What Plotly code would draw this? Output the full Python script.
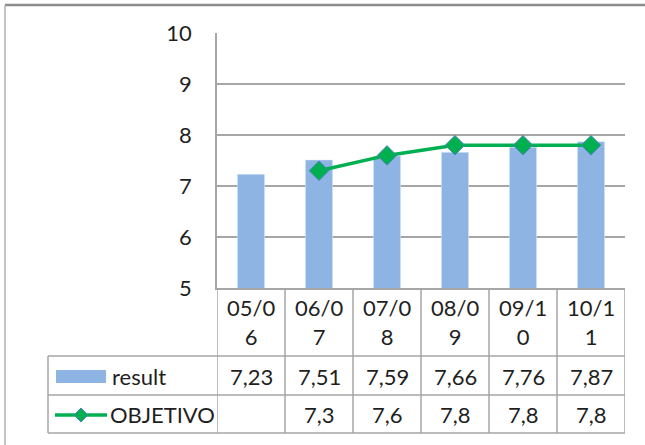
import plotly.graph_objects as go

categories = ["05/06", "06/07", "07/08", "08/09", "09/10", "10/11"]
result = [7.23, 7.51, 7.59, 7.66, 7.76, 7.87]
objetivo = [None, 7.3, 7.6, 7.8, 7.8, 7.8]
result_labels = ["7,23", "7,51", "7,59", "7,66", "7,76", "7,87"]
objetivo_labels = ["", "7,3", "7,6", "7,8", "7,8", "7,8"]
y_ticks = [5, 6, 7, 8, 9, 10]

W, H = 645, 445
L, R, T, B = 217, 625, 33, 288  # plot area in pixels


def px(x):
    return (x - L) / (R - L)


def py(y):
    return (B - y) / (B - T)


FONT = "Lato"
FS = 22
GRID = "#A6A6A6"
BAR = "#8DB4E2"
GREEN = "#00B050"

fig = go.Figure()
fig.add_trace(go.Bar(x=categories, y=result, name="result", marker_color=BAR,
                     width=0.4, base=0))
fig.add_trace(go.Scatter(x=categories, y=objetivo, name="OBJETIVO", mode="lines+markers",
                         line=dict(color=GREEN, width=3.5),
                         marker=dict(symbol="diamond", size=15, color=GREEN,
                                     line=dict(color="#4F81BD", width=1))))

shapes = []
annotations = []

# outer chart border (top and left visible)
shapes.append(dict(type="line", xref="paper", yref="paper", x0=px(5), x1=px(W),
                   y0=py(5), y1=py(5), line=dict(color="#8C8C8C", width=2.5)))
shapes.append(dict(type="line", xref="paper", yref="paper", x0=px(5), x1=px(5),
                   y0=py(5), y1=py(H), line=dict(color="#B0B0B0", width=1.5)))

# table lines
row_lines = [356, 395, 433]
for yl in row_lines:
    shapes.append(dict(type="line", xref="paper", yref="paper", x0=px(48), x1=px(R),
                       y0=py(yl), y1=py(yl), line=dict(color=GRID, width=1.5)))
shapes.append(dict(type="line", xref="paper", yref="paper", x0=px(48), x1=px(48),
                   y0=py(356), y1=py(433), line=dict(color=GRID, width=1.5)))
n = len(categories)
for i in range(n + 1):
    xb = i - 0.5
    shapes.append(dict(type="line", xref="x", yref="paper", x0=xb, x1=xb,
                       y0=py(B), y1=py(433), line=dict(color=GRID, width=1.5)))

# legend keys inside table
shapes.append(dict(type="rect", xref="paper", yref="paper", x0=px(56), x1=px(106),
                   y0=py(370), y1=py(383), fillcolor=BAR, line=dict(width=0)))
shapes.append(dict(type="line", xref="paper", yref="paper", x0=px(55), x1=px(107),
                   y0=py(415), y1=py(415), line=dict(color=GREEN, width=3.5)))
d = 7
shapes.append(dict(type="path", xref="paper", yref="paper",
                   path=f"M {px(81-d)} {py(415)} L {px(81)} {py(415-d)} L {px(81+d)} {py(415)} L {px(81)} {py(415+d)} Z",
                   fillcolor=GREEN, line=dict(color="#4F81BD", width=1)))

tfont = dict(family=FONT, size=FS, color="#1F1F1F")
annotations.append(dict(xref="paper", yref="paper", x=px(110), y=py(376), text="result",
                        showarrow=False, xanchor="left", yanchor="middle", font=tfont))
annotations.append(dict(xref="paper", yref="paper", x=px(108), y=py(414), text="OBJETIVO",
                        showarrow=False, xanchor="left", yanchor="middle", font=tfont))

for c, rl, ol in zip(categories, result_labels, objetivo_labels):
    annotations.append(dict(xref="x", yref="paper", x=c, y=py(322),
                            text=c[:4] + "<br>" + c[4:], showarrow=False,
                            xanchor="center", yanchor="middle", font=tfont))
    annotations.append(dict(xref="x", yref="paper", x=c, y=py(376), text=rl,
                            showarrow=False, xanchor="center", yanchor="middle", font=tfont))
    if ol:
        annotations.append(dict(xref="x", yref="paper", x=c, y=py(414), text=ol,
                                showarrow=False, xanchor="center", yanchor="middle", font=tfont))

fig.update_layout(
    width=W, height=H,
    margin=dict(l=L, r=W - R, t=T, b=H - B, pad=0),
    paper_bgcolor="white", plot_bgcolor="white",
    showlegend=False,
    font=dict(family=FONT, size=FS, color="#1F1F1F"),
    xaxis=dict(type="category", range=[-0.5, n - 0.5], showticklabels=False,
               showgrid=False, showline=True, linecolor=GRID, linewidth=1.5, ticks=""),
    yaxis=dict(range=[5, 10], tickvals=y_ticks, showgrid=True, gridcolor=GRID, gridwidth=1.5,
               showline=True, linecolor=GRID, linewidth=1.5, zeroline=False,
               ticks="", ticklabelstandoff=19, tickfont=dict(family=FONT, size=FS, color="#1F1F1F")),
    shapes=shapes,
    annotations=annotations,
)

fig.write_html("out.html", config={"displayModeBar": False},
               post_script="document.body.style.margin='0';document.body.style.overflow='hidden';")
